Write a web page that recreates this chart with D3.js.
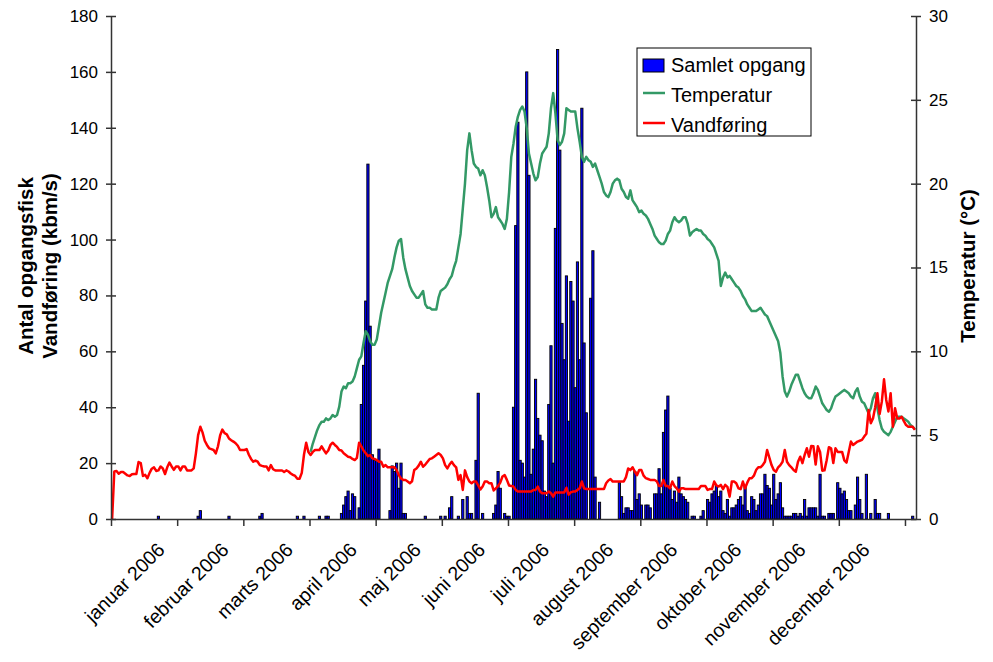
<!DOCTYPE html>
<html>
<head>
<meta charset="utf-8">
<script src="https://cdn.jsdelivr.net/npm/d3@7"></script>
<style>
  body { margin: 0; background: #fff; }
  svg { display: block; font-family: "Liberation Sans", Arial, sans-serif; }
</style>
</head>
<body>
<div id="chart"></div>
<script>
// Samlet opgang (fisk pr. dag), 2006, dag 0 = 1. januar
const opgang = [
  0,0,0,0,0,0,0,0,0,0,  0,0,0,0,0,0,0,0,0,0,
  0,1,0,0,0,0,0,0,0,0,  0,0,0,0,0,0,0,0,0,1,
  3,0,0,0,0,0,0,0,0,0,  0,0,0,1,0,0,0,0,0,0,
  0,0,0,0,0,0,0,1,2,0,  0,0,0,0,0,0,0,0,0,0,
  0,0,0,0,1,0,0,1,0,0,  0,0,0,0,1,0,0,1,1,0,
  0,0,0,0,2,5,8,10,3,9,  8,0,4,41,55,78,127,69,23,21,
  21,25,0,0,0,0,3,19,17,20,  11,20,2,2,0,0,0,0,0,0,
  0,0,1,0,0,0,0,0,0,1,  0,1,0,4,8,0,0,1,0,7,
  0,8,2,2,0,21,45,0,2,0,  0,0,0,2,5,17,11,0,2,1,
  1,0,40,105,142,21,20,15,160,123,  16,25,50,36,30,28,10,8,41,62,
  20,104,168,132,70,57,87,35,85,78,  47,92,57,147,63,38,0,79,96,15,
  0,6,0,0,0,0,0,0,0,0,  13,8,2,4,4,3,3,17,7,9,
  5,0,5,5,4,0,9,9,18,9,  31,39,44,11,7,10,6,15,9,8,
  7,6,0,1,1,0,0,1,3,0,  7,6,9,10,12,8,10,3,2,7,
  1,4,4,5,7,8,5,12,3,2,  8,7,3,5,9,9,16,12,11,5,
  16,7,9,13,4,1,1,1,1,2,  2,1,2,1,7,1,4,4,4,4,
  1,16,1,1,0,2,2,2,0,13,  11,9,10,7,3,3,0,5,15,7,
  2,0,16,0,2,0,7,2,2,0,  0,0,2,0,0,0,0,0,0,0,
  0,0,0,1,0
];

// Vandføring (kbm/s) pr. dag
const vandforing = [
  0,17,17.2,16.2,16.8,16.8,16.2,15.6,15.4,16,
  16.1,16.1,20.4,20,15.4,15.8,14.6,16.5,18,18.5,
  17.2,17.4,18.8,18.1,16.1,18.5,20.2,18.8,17.6,18.8,
  18.8,17.4,18.8,18.8,17.4,17.4,17.4,18.1,23.5,30,
  33,31,28,26.5,25.3,25,24.7,23.5,26,30,
  32,30.7,30.3,28.8,28.2,27.7,27.1,26.2,24.7,24.7,
  24.7,25,23,21.5,20.5,20.9,20.5,19.3,19,18.8,
  18.8,17.4,19.3,17.8,17.4,17.4,17.4,17.4,16.8,17.4,
  17,16.3,15.8,15.4,14.4,14.4,16.5,23,27.3,24,
  22.9,24,24.7,24.7,24.7,26,24.7,23.5,24.5,26.5,
  27.3,26.5,25.8,24.7,24.5,23.5,22.9,22.3,22.1,21.5,
  21.1,21.9,27.3,26,24.5,23.5,22.5,22.9,21.7,21.5,
  21.1,20.5,20.5,18.7,19.3,18.5,18.5,18.5,18.5,17.5,
  15.7,14.5,14,14,13.4,12.8,13.5,17.5,18.1,19.1,
  20.5,18.7,19.5,20.5,21.5,21.7,22.3,22.9,23.5,22.9,
  21.7,19.3,18.1,19.5,20.5,19.3,18.5,14,15.7,10.4,
  17.4,15,13.4,12.8,13.4,13.4,12,10.6,11.6,13.4,
  13.4,12.8,12.8,10.2,11,11.8,13,15.2,15.7,14,
  12,11.8,11.6,10.4,9.8,9.8,9.8,9.8,9.8,9.8,
  9.8,10.4,10.4,11.6,9.8,9.2,9.2,9.2,9.8,9.2,
  8,9.5,9.5,9.5,9.5,9.5,11.2,8.7,9.6,9.8,
  9.8,10.4,11,13.4,11,10.7,10.7,10.7,10.7,10.7,
  10.7,10.7,10.7,10.7,12.8,13.8,14.3,13.4,13.4,13.4,
  13.4,13.4,13.4,15,18.1,17.5,18.5,17,15.7,17.5,
  17.5,15.5,14.6,14.3,14,14,14,13.4,11.8,11.8,
  14,11.8,11.8,11,13.4,11.8,11,9.8,11,11,
  10.7,10.7,10.7,10.7,10.7,10.7,10.7,11.8,11.8,11.8,
  10.4,10.7,10.7,13.4,12,11.6,12.2,10.7,12.2,11.5,
  8,13.4,13.4,12.8,11,10.7,13.4,11,13,14.6,
  14.6,15.5,17.5,18.5,18.5,19.3,20.5,24.7,22,19.3,
  17.5,16.9,18.5,19.3,20.5,24.7,20.5,19.3,18.5,17.5,
  16.9,20.5,22.3,20,22.9,25.3,22.3,26.1,26,19.5,
  26,24,17.3,17.4,21,25.7,25.3,20,25.3,24,
  24,24,21,20.2,24,27.7,26.5,27.1,27.7,28,
  28.3,29.5,30.5,39,34.3,36,40,45,37.6,42,
  50,42.6,38.5,45,33,39.6,36,36,36.6,35,
  33.6,33,33,33,31.9
];

// Temperatur (°C) pr. dag, målt fra dag 90 (1. april)
const tempStartDay = 90;
const temperatur = [
  4.0,4.5,4.9,5.3,5.6,5.8,5.8,6.0,5.9,6.0,
  6.2,6.1,6.2,6.7,7.6,7.9,7.8,8.1,8.1,8.2,
  8.5,9.0,9.5,9.7,10.5,11.2,11.0,10.6,10.4,10.4,
  10.7,11.5,12.3,12.9,13.5,14.1,14.5,14.9,15.6,16.2,
  16.6,16.7,15.6,14.9,14.4,13.9,13.6,13.4,13.2,13.2,
  13.4,13.6,12.8,12.6,12.6,12.5,12.5,12.5,13.2,13.6,
  13.7,13.8,14.0,14.3,14.5,15.0,15.4,16.2,17.0,18.5,
  20.0,22.0,23.0,22.0,21.2,21.0,20.9,20.5,20.8,20.5,
  19.8,19.0,18.0,18.2,18.6,18.0,17.8,17.6,17.3,17.9,
  19.5,21.6,22.4,23.4,24.0,24.4,24.6,24.3,23.3,21.8,
  21.2,20.6,20.2,20.4,21.2,21.8,22.0,22.2,23.0,24.5,
  25.4,24.2,22.6,22.3,22.5,23.0,24.5,24.4,24.3,24.3,
  24.3,23.3,22.5,21.6,21.3,21.6,21.4,21.3,21.0,21.2,
  20.8,20.4,20.0,19.5,19.3,19.2,19.5,20.0,20.2,20.3,
  20.2,19.7,19.5,19.2,19.1,19.6,19.0,18.8,18.6,18.3,
  18.4,18.2,18.1,17.9,17.6,17.3,16.9,16.7,16.5,16.4,
  16.4,16.6,17.0,17.2,17.7,18.0,17.8,17.7,17.8,18.0,
  18.0,17.6,16.9,17.1,17.2,17.3,17.2,17.2,17.0,16.9,
  16.7,16.6,16.4,16.2,15.8,15.4,13.9,14.4,14.7,14.4,
  14.5,14.3,14.1,13.9,13.8,13.6,13.3,13.1,12.8,12.6,
  12.4,12.4,12.4,12.5,12.6,12.4,12.2,12.1,11.8,11.5,
  11.2,10.9,10.6,9.9,8.5,7.6,7.3,7.6,8.0,8.3,
  8.6,8.6,8.2,7.8,7.5,7.3,7.2,7.2,7.5,7.9,
  7.7,7.3,6.9,6.7,6.5,6.4,6.6,7.0,7.3,7.4,
  7.5,7.6,7.7,7.6,7.5,7.3,7.2,7.6,7.8,7.3,
  7.0,6.9,6.6,6.3,6.6,7.2,7.5,6.6,5.9,5.4,
  5.2,5.1,5.0,5.2,5.5,5.8,6.1,6.1,6.1,6.0,
  5.9,5.8,5.6,5.5,5.35
];

const monthLabels = ['januar 2006', 'februar 2006', 'marts 2006', 'april 2006',
  'maj 2006', 'juni 2006', 'juli 2006', 'august 2006', 'september 2006',
  'oktober 2006', 'november 2006', 'december 2006'];
const leftTicks = [0, 20, 40, 60, 80, 100, 120, 140, 160, 180];
const rightTicks = [0, 5, 10, 15, 20, 25, 30];
const legendItems = ['Samlet opgang', 'Temperatur', 'Vandføring'];

const W = 993, H = 662;
const plot = { left: 111, right: 916, top: 16, bottom: 519 };
const nDays = opgang.length;

const svg = d3.select('#chart').append('svg')
  .attr('width', W).attr('height', H);

// Scales
const x = d3.scaleLinear().domain([0, nDays]).range([plot.left, plot.right]);
const yLeft = d3.scaleLinear().domain([0, 180]).range([plot.bottom, plot.top]);
const yRight = d3.scaleLinear().domain([0, 30]).range([plot.bottom, plot.top]);
const dayW = x(1) - x(0);

// Bars
svg.append('g').selectAll('rect')
  .data(opgang.map((v, i) => ({ day: i, v })).filter(d => d.v > 0))
  .enter().append('rect')
  .attr('x', d => x(d.day))
  .attr('y', d => yLeft(d.v))
  .attr('width', dayW)
  .attr('height', d => yLeft(0) - yLeft(d.v))
  .attr('fill', '#0000ff')
  .attr('stroke', '#000')
  .attr('stroke-width', 0.9);

// Temperature line (right axis)
const tempLine = d3.line()
  .x((d, i) => x(tempStartDay + i + 0.5))
  .y(d => yRight(d));
svg.append('path')
  .datum(temperatur)
  .attr('d', tempLine)
  .attr('fill', 'none')
  .attr('stroke', '#339966')
  .attr('stroke-width', 2.5)
  .attr('stroke-linejoin', 'round');

// Flow line (left axis)
const flowLine = d3.line()
  .x((d, i) => x(i + 0.5))
  .y(d => yLeft(d));
svg.append('path')
  .datum(vandforing)
  .attr('d', flowLine)
  .attr('fill', 'none')
  .attr('stroke', '#ff0000')
  .attr('stroke-width', 2.5)
  .attr('stroke-linejoin', 'round');

// Axes
const axisColor = '#333';
const gLeft = svg.append('g')
  .attr('transform', `translate(${plot.left},0)`)
  .call(d3.axisLeft(yLeft).tickValues(leftTicks).tickSizeInner(5).tickSizeOuter(0).tickPadding(8));
gLeft.selectAll('.tick line').attr('x1', 5);

const gRight = svg.append('g')
  .attr('transform', `translate(${plot.right},0)`)
  .call(d3.axisRight(yRight).tickValues(rightTicks).tickSizeInner(5).tickSizeOuter(0).tickPadding(8));
gRight.selectAll('.tick line').attr('x1', -5);

const gBottom = svg.append('g')
  .attr('transform', `translate(0,${plot.bottom})`)
  .call(d3.axisBottom(x).tickValues(d3.range(0, nDays, 30)).tickSizeInner(7).tickSizeOuter(0).tickFormat(''));

[gLeft, gRight, gBottom].forEach(g => {
  g.select('.domain').attr('stroke', axisColor).attr('stroke-width', 1.5);
  g.selectAll('.tick line').attr('stroke', axisColor).attr('stroke-width', 1.5);
  g.selectAll('.tick text').attr('fill', '#000').attr('font-size', 17)
    .attr('font-family', '"Liberation Sans", Arial, sans-serif');
});

// Month labels, rotated (Excel spaces them a little closer than the ticks)
svg.append('g').selectAll('text')
  .data(monthLabels)
  .enter().append('text')
  .attr('transform', (d, i) => `translate(${x(24.9 + i * 29.06)},551) rotate(-45)`)
  .attr('text-anchor', 'end')
  .attr('font-size', 19.5)
  .attr('fill', '#000')
  .text(d => d);

// Axis titles
const leftTitle = svg.append('text')
  .attr('transform', 'translate(33,266) rotate(-90)')
  .attr('text-anchor', 'middle')
  .attr('font-size', 20.5)
  .attr('font-weight', 'bold');
leftTitle.append('tspan').attr('x', 0).attr('dy', 0).text('Antal opgangsfisk');
leftTitle.append('tspan').attr('x', 0).attr('dy', 24).text('Vandføring (kbm/s)');

svg.append('text')
  .attr('transform', 'translate(975,266) rotate(-90)')
  .attr('text-anchor', 'middle')
  .attr('font-size', 20.5)
  .attr('font-weight', 'bold')
  .text('Temperatur (°C)');

// Legend
const lg = svg.append('g').attr('transform', 'translate(637,48)');
lg.append('rect').attr('width', 174).attr('height', 88)
  .attr('fill', '#fff').attr('stroke', '#000').attr('stroke-width', 1);
lg.append('rect').attr('x', 6).attr('y', 11).attr('width', 21).attr('height', 13)
  .attr('fill', '#0000ff').attr('stroke', '#000').attr('stroke-width', 1);
lg.append('line').attr('x1', 6).attr('x2', 28).attr('y1', 45).attr('y2', 45)
  .attr('stroke', '#339966').attr('stroke-width', 2.5);
lg.append('line').attr('x1', 6).attr('x2', 28).attr('y1', 75).attr('y2', 75)
  .attr('stroke', '#ff0000').attr('stroke-width', 2.5);
lg.selectAll('text.item')
  .data(legendItems)
  .enter().append('text')
  .attr('class', 'item')
  .attr('x', 34)
  .attr('y', (d, i) => 24 + i * 30)
  .attr('font-size', 20)
  .text(d => d);
</script>
</body>
</html>
